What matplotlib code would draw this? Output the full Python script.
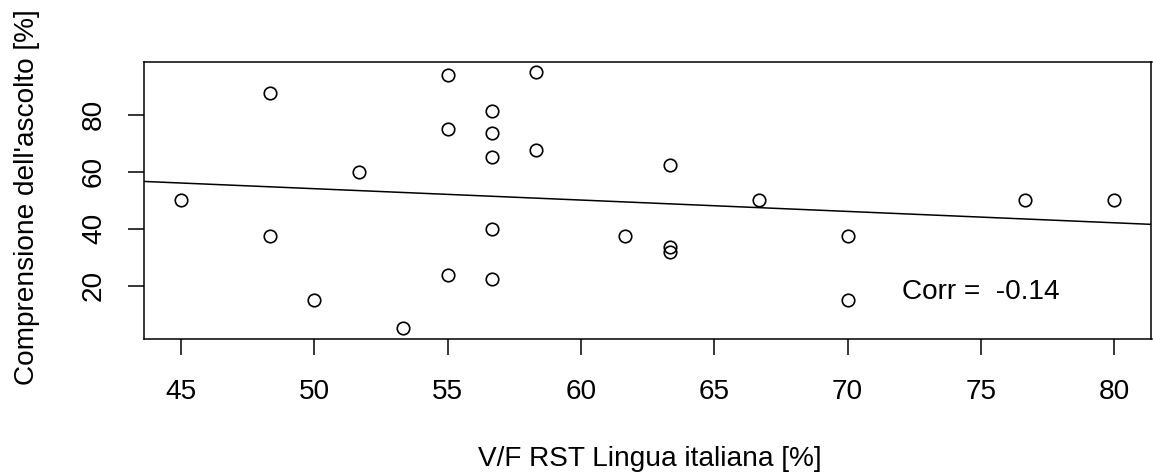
import numpy as np
import matplotlib
matplotlib.use("Agg")
import matplotlib.pyplot as plt

plt.rcParams['font.family'] = ['Liberation Sans', 'DejaVu Sans']

# Scores per student: true/false reading test (x) vs listening comprehension (y)
rst_italiano = [45.0, 48.33, 48.33, 50.0, 51.67, 53.33, 55.0, 55.0, 55.0,
                56.67, 56.67, 56.67, 56.67, 56.67, 58.33, 58.33, 61.67,
                63.33, 63.33, 63.33, 66.67, 70.0, 70.0, 76.67, 80.0]
comprensione = [50.0, 87.5, 37.5, 15.0, 60.0, 5.0, 94.0, 75.0, 23.75,
                81.25, 73.75, 65.0, 40.0, 22.5, 95.0, 67.5, 37.5,
                62.5, 33.6, 31.7, 50.0, 37.5, 15.0, 50.0, 50.0]
x_ticks = [45, 50, 55, 60, 65, 70, 75, 80]
y_ticks = [20, 40, 60, 80]

x = np.array(rst_italiano)
y = np.array(comprensione)

W, H = 1153, 475
fig = plt.figure(figsize=(W / 100, H / 100), dpi=100)
left, right, top, bottom = 143.7, 1151.5, 61.7, 338.7
ax = fig.add_axes([left / W, 1 - bottom / H, (right - left) / W, (bottom - top) / H])

FS = 20.2

ax.plot(x, y, linestyle='none', marker='o', markersize=9.0,
        markerfacecolor='none', markeredgecolor='black', markeredgewidth=1.2)

# R-style 4% padding around the data range
def padded(v):
    lo, hi = v.min(), v.max()
    r = hi - lo
    return lo - 0.04 * r, hi + 0.04 * r

xl = padded(x)
yl = padded(y)
ax.set_xlim(*xl)
ax.set_ylim(*yl)

# least-squares line across the full plotting region
slope, intercept = np.polyfit(x, y, 1)
xs = np.array(xl)
ax.plot(xs, intercept + slope * xs, color='black', linewidth=1.1)

corr = np.corrcoef(x, y)[0, 1]
ax.text(75, 15.5, f"Corr =  {corr:.2f}", ha='center', va='baseline', fontsize=FS)

ax.set_xticks(x_ticks)
ax.set_xticklabels([str(t) for t in x_ticks])
ax.set_yticks(y_ticks)
ax.set_yticklabels([str(t) for t in y_ticks], rotation=90, va='center')
ax.tick_params(axis='x', direction='out', length=11.5, width=1.1, pad=17.5, labelsize=FS)
ax.tick_params(axis='y', direction='out', length=11.5, width=1.1, pad=15.0, labelsize=FS)

for s in ax.spines.values():
    s.set_linewidth(1.1)

fig.text(650 / W, 1 - 466 / H, "V/F RST Lingua italiana [%]", ha='center',
         va='baseline', fontsize=FS)
fig.text(34 / W, 1 - 197 / H, "Comprensione dell'ascolto [%]", rotation=90,
         rotation_mode='anchor', ha='center', va='baseline', fontsize=FS)

fig.savefig("out.png", dpi=100)
